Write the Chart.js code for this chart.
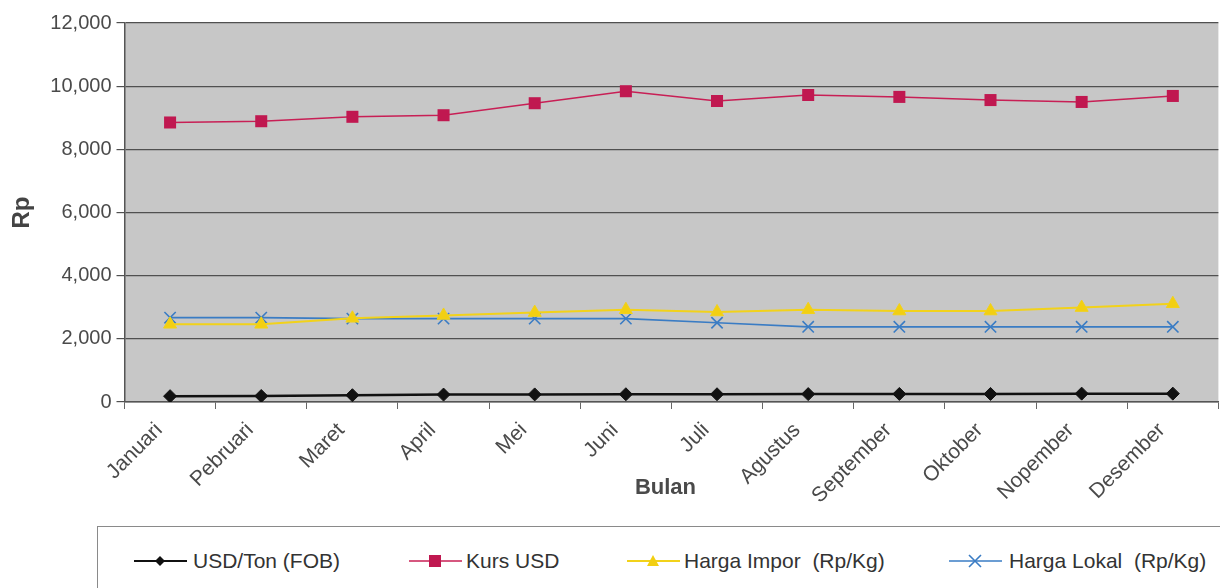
<!DOCTYPE html>
<html lang="id">
<head>
    <meta charset="UTF-8">
    <script src="https://cdn.jsdelivr.net/npm/chart.js"></script>
    <title>Harga per bulan</title>
    <style>
      body { margin: 0; background: #fff; overflow: hidden; font-family: "Liberation Sans", Arial, sans-serif; }
      #wrap { position: relative; width: 1228px; height: 588px; }
      #legend { position: absolute; left: 97px; top: 526px; width: 1200px; height: 80px;
                border: 1px solid #8a8a8a; background: #fff; }
      .item { position: absolute; top: 20px; height: 28px; white-space: pre; font-size: 21px; color: #333; line-height: 28px; }
      .item svg { position: absolute; left: 0; top: 6px; }
      .item span { position: absolute; top: 0; }
    </style>
</head>
<body>
    <div id="wrap">
      <canvas id="myChart" width="1228" height="588"></canvas>
      <div id="legend"></div>
    </div>

    <script>
      const months = ['Januari', 'Pebruari', 'Maret', 'April', 'Mei', 'Juni', 'Juli',
                      'Agustus', 'September', 'Oktober', 'Nopember', 'Desember'];
      const yTicks = [0, 2000, 4000, 6000, 8000, 10000, 12000];

      const usdTon     = [185, 190, 215, 235, 240, 245, 245, 250, 255, 255, 265, 265];
      const kursUsd    = [8850, 8890, 9030, 9080, 9460, 9840, 9530, 9720, 9660, 9560, 9500, 9690];
      const hargaImpor = [2460, 2460, 2650, 2740, 2830, 2920, 2850, 2920, 2880, 2880, 2990, 3110];
      const hargaLokal = [2670, 2670, 2640, 2640, 2640, 2640, 2510, 2380, 2380, 2380, 2380, 2380];

      const seriesNames = ['USD/Ton (FOB)', 'Kurs USD', 'Harga Impor  (Rp/Kg)', 'Harga Lokal  (Rp/Kg)'];

      const FONT = '"Liberation Sans", Arial, sans-serif';

      // gray plot background + "Bulan" title sitting between the rotated labels
      const plotBits = {
        id: 'plotBits',
        beforeDraw(chart) {
          const a = chart.chartArea, c = chart.ctx;
          c.save();
          c.fillStyle = '#c7c7c7';
          c.fillRect(a.left, a.top, a.right - a.left, a.bottom - a.top);
          c.restore();
        },
        afterDraw(chart) {
          const a = chart.chartArea, c = chart.ctx;
          c.save();
          c.font = 'bold 22px ' + FONT;
          c.fillStyle = '#4a4a4a';
          c.textAlign = 'center';
          c.textBaseline = 'middle';
          c.fillText('Bulan', (a.left + a.right) / 2 - 6, a.bottom + 86);
          c.restore();
        }
      };

      const ctx = document.getElementById('myChart');

      const chart = new Chart(ctx, {
        type: 'line',
        data: {
          labels: months,
          datasets: [{
            label: seriesNames[0],
            data: usdTon,
            borderColor: '#111',
            backgroundColor: '#111',
            borderWidth: 2.5,
            pointStyle: 'rectRot',
            pointRadius: 6.5,
            pointBorderWidth: 1
          }, {
            label: seriesNames[1],
            data: kursUsd,
            borderColor: '#c81f55',
            backgroundColor: '#c01850',
            borderWidth: 1.5,
            pointStyle: 'rect',
            pointRadius: 8.5,
            pointBorderWidth: 0
          }, {
            label: seriesNames[2],
            data: hargaImpor,
            borderColor: '#f2d21a',
            backgroundColor: '#f2cf12',
            borderWidth: 2,
            pointStyle: 'triangle',
            pointRadius: 7.5,
            pointBorderWidth: 1
          }, {
            label: seriesNames[3],
            data: hargaLokal,
            borderColor: '#3a7cc4',
            backgroundColor: '#3a7cc4',
            borderWidth: 1.6,
            pointStyle: 'crossRot',
            pointRadius: 8,
            pointBorderWidth: 1.6
          }]
        },
        options: {
          responsive: false,
          animation: false,
          events: [],
          layout: { padding: { top: 23, right: 1, left: 0, bottom: 0 } },
          plugins: {
            legend: { display: false },
            tooltip: { enabled: false }
          },
          scales: {
            x: {
              offset: true,
              afterFit(scale) { scale.height = 186; },
              border: { color: '#555', width: 1.5 },
              grid: { offset: true, drawOnChartArea: false, color: '#666', tickLength: 7 },
              ticks: {
                minRotation: 45,
                maxRotation: 45,
                autoSkip: false,
                padding: 9,
                labelOffset: -11,
                color: '#4a4a4a',
                font: { family: FONT, size: 21 }
              }
            },
            y: {
              min: 0,
              max: 12000,
              afterFit(scale) { scale.width = 124.5; },
              afterBuildTicks(scale) { scale.ticks = yTicks.map(v => ({ value: v })); },
              border: { color: '#555', width: 1.5 },
              grid: { color: '#505050', lineWidth: 1.2, tickLength: 8 },
              title: {
                display: true,
                text: 'Rp',
                color: '#444',
                padding: { top: 8, bottom: 0 },
                font: { family: FONT, size: 24, weight: 'bold' }
              },
              ticks: {
                padding: 5,
                color: '#4a4a4a',
                font: { family: FONT, size: 20 },
                callback: v => v.toLocaleString('en-US')
              }
            }
          }
        },
        plugins: [plotBits]
      });

      // legend box under the chart, one entry per dataset
      const legendPos = [
        { line: 36, text: 95 },
        { line: 311, text: 368 },
        { line: 529, text: 586 },
        { line: 851, text: 911 }
      ];
      const legend = document.getElementById('legend');
      chart.data.datasets.forEach((ds, i) => {
        const p = legendPos[i];
        const item = document.createElement('div');
        item.className = 'item';
        item.style.left = p.line + 'px';
        let mark = '';
        const c = ds.backgroundColor;
        if (ds.pointStyle === 'rectRot') mark = `<polygon points="26,3 31,8 26,13 21,8" fill="${c}"/>`;
        if (ds.pointStyle === 'rect') mark = `<rect x="20" y="2" width="12" height="12" fill="${c}"/>`;
        if (ds.pointStyle === 'triangle') mark = `<polygon points="26,2 32,13 20,13" fill="${c}"/>`;
        if (ds.pointStyle === 'crossRot') mark = `<path d="M20,2 L32,14 M32,2 L20,14" stroke="${c}" stroke-width="1.6"/>`;
        item.innerHTML =
          `<svg width="54" height="16"><line x1="0" y1="8" x2="53" y2="8" stroke="${ds.borderColor}" stroke-width="${Math.min(ds.borderWidth, 2)}"/>${mark}</svg>` +
          `<span style="left:${p.text - p.line}px">${ds.label}</span>`;
        legend.appendChild(item);
      });
    </script>
</body>
</html>
